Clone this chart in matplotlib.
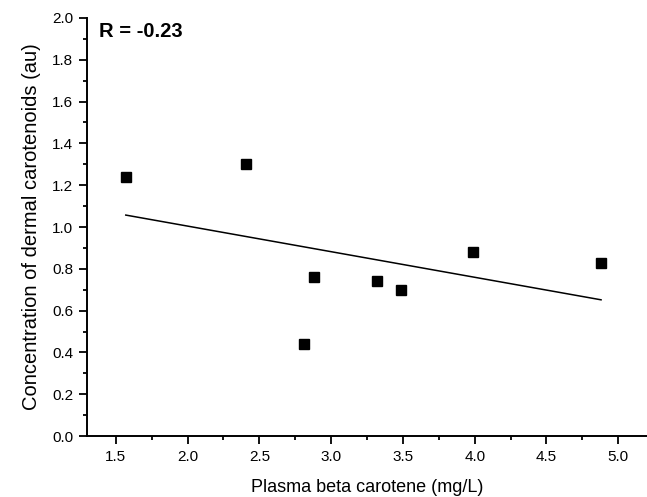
import numpy as np
import matplotlib
matplotlib.use("Agg")
import matplotlib.pyplot as plt
from matplotlib.ticker import MultipleLocator

plt.rcParams['font.family'] = ['Liberation Sans', 'DejaVu Sans']

# plasma beta carotene (mg/L) vs dermal carotenoids (au)
plasma = [1.57, 2.41, 2.81, 2.88, 3.32, 3.49, 3.99, 4.88]
dermal = [1.24, 1.30, 0.44, 0.76, 0.74, 0.70, 0.88, 0.83]
r_label = "R = -0.23"

fig = plt.figure(figsize=(6.47, 4.97), dpi=100)
ax = fig.add_axes([0.1345, 0.1227, 0.8655, 0.8411])

ax.plot(plasma, dermal, 's', color='black', ms=6.5, clip_on=False)

# linear fit across the data range
slope, icpt = np.polyfit(plasma, dermal, 1)
xs = np.array([min(plasma), max(plasma)])
ax.plot(xs, slope * xs + icpt, color='black', lw=1.1)

ax.set_xlim(1.3, 5.2)
ax.set_ylim(0, 2.0)
ax.xaxis.set_major_locator(MultipleLocator(0.5))
ax.xaxis.set_minor_locator(MultipleLocator(0.25))
ax.yaxis.set_major_locator(MultipleLocator(0.2))
ax.yaxis.set_minor_locator(MultipleLocator(0.1))
ax.xaxis.set_major_formatter(matplotlib.ticker.FormatStrFormatter('%.1f'))
ax.yaxis.set_major_formatter(matplotlib.ticker.FormatStrFormatter('%.1f'))

for s in ['top', 'right']:
    ax.spines[s].set_visible(False)
for s in ['left', 'bottom']:
    ax.spines[s].set_linewidth(1.4)

ax.tick_params(which='major', direction='out', length=6, width=1.3, labelsize=11, pad=4)
ax.tick_params(which='minor', direction='out', length=3, width=1.3)

ax.set_xlabel("Plasma beta carotene (mg/L)", fontsize=13, labelpad=11)
ax.set_ylabel("Concentration of dermal carotenoids (au)", fontsize=14.5, labelpad=8)

ax.text(1.385, 1.935, r_label, fontsize=14.5, fontweight='bold', va='center', ha='left')

fig.savefig("out.png", dpi=100)
